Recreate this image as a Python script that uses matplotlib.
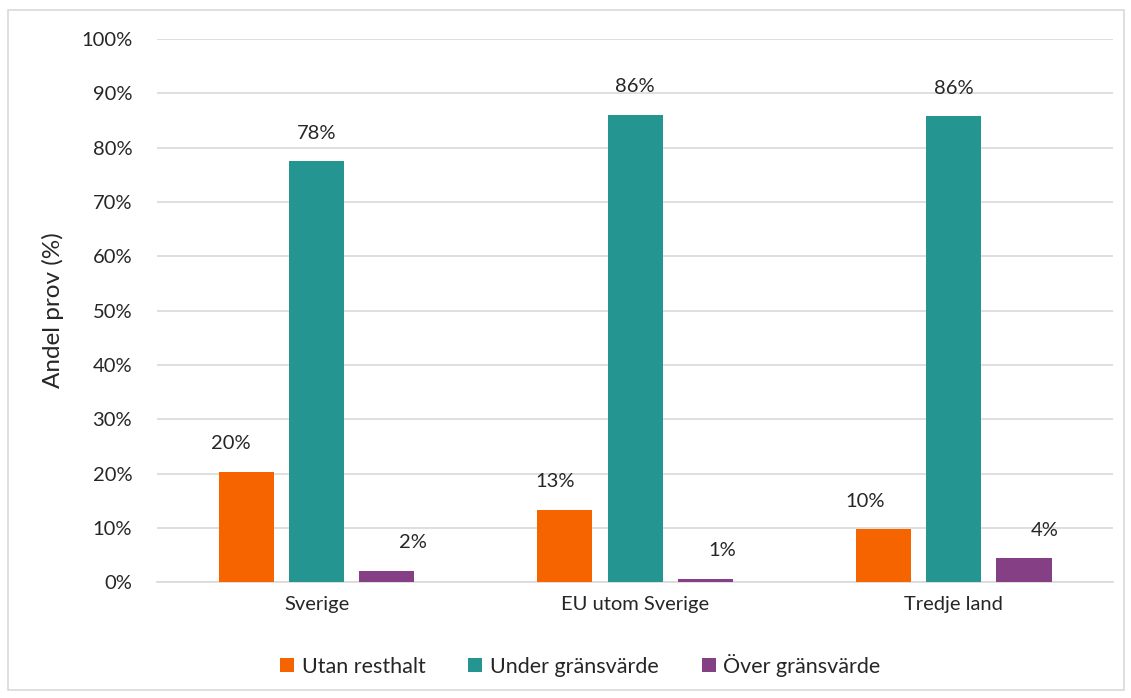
import matplotlib.pyplot as plt
import numpy as np
from matplotlib.patches import Rectangle

plt.rcParams['font.family'] = ['Lato', 'DejaVu Sans']

# Andel prov per ursprung
kategorier = ["Sverige", "EU utom Sverige", "Tredje land"]
utan_resthalt = [20.3, 13.3, 9.7]
under_gransvarde = [77.5, 86.1, 85.8]
over_gransvarde = [2.1, 0.6, 4.4]
serier = ["Utan resthalt", "Under gränsvärde", "Över gränsvärde"]
farger = ["#F66400", "#249590", "#853F85"]

# small horizontal nudges of the value labels (points)
label_dx = [[-11, 0, 19], [-7, 0, 12], [-13, 0, 15]]


def main():
    fig = plt.figure(figsize=(11.31, 6.98), dpi=100)
    ax = fig.add_axes([0.139, 0.166, 0.845, 0.778])

    x = np.arange(len(kategorier))
    bredd = 0.173
    steg = 0.221
    data = [utan_resthalt, under_gransvarde, over_gransvarde]

    for i, (vals, namn, farg) in enumerate(zip(data, serier, farger)):
        pos = x + (i - 1) * steg
        ax.bar(pos, vals, width=bredd, color=farg, label=namn, zorder=3)
        for j, (p, v) in enumerate(zip(pos, vals)):
            ax.annotate(f"{round(v):.0f}%", (p, v), xytext=(label_dx[j][i], 14),
                        textcoords="offset points", ha="center", va="bottom",
                        fontsize=14.5, color="#262626")

    ax.set_xlim(-0.5, 2.5)
    ax.set_ylim(0, 100)
    ax.set_yticks(np.arange(0, 101, 10))
    ax.set_yticklabels([f"{t}%" for t in range(0, 101, 10)])
    ax.set_xticks(x)
    ax.set_xticklabels(kategorier)
    ax.tick_params(axis="both", length=0, labelsize=14.5, labelcolor="#262626")
    ax.tick_params(axis="y", pad=18)
    ax.tick_params(axis="x", pad=10)
    ax.grid(axis="y", color="#D9D9D9", linewidth=1.2, zorder=0)
    for s in ["top", "right", "left"]:
        ax.spines[s].set_visible(False)
    ax.spines["bottom"].set_color("#D9D9D9")
    ax.spines["bottom"].set_linewidth(1.2)

    ax.set_ylabel("Andel prov (%)", fontsize=17.5, color="#262626", labelpad=12)

    fig.legend(loc="center", bbox_to_anchor=(0.513, 0.047), ncol=3, frameon=False,
               fontsize=15.5, handlelength=0.65, handleheight=0.65, handletextpad=0.35,
               columnspacing=2.0, labelcolor="#262626")

    # thin frame around the whole chart
    fig.patches.append(Rectangle((0.007, 0.012), 0.987, 0.973, transform=fig.transFigure,
                                 fill=False, edgecolor="#D9D9D9", linewidth=1.2))

    fig.savefig("out.png", dpi=100)


if __name__ == "__main__":
    main()
